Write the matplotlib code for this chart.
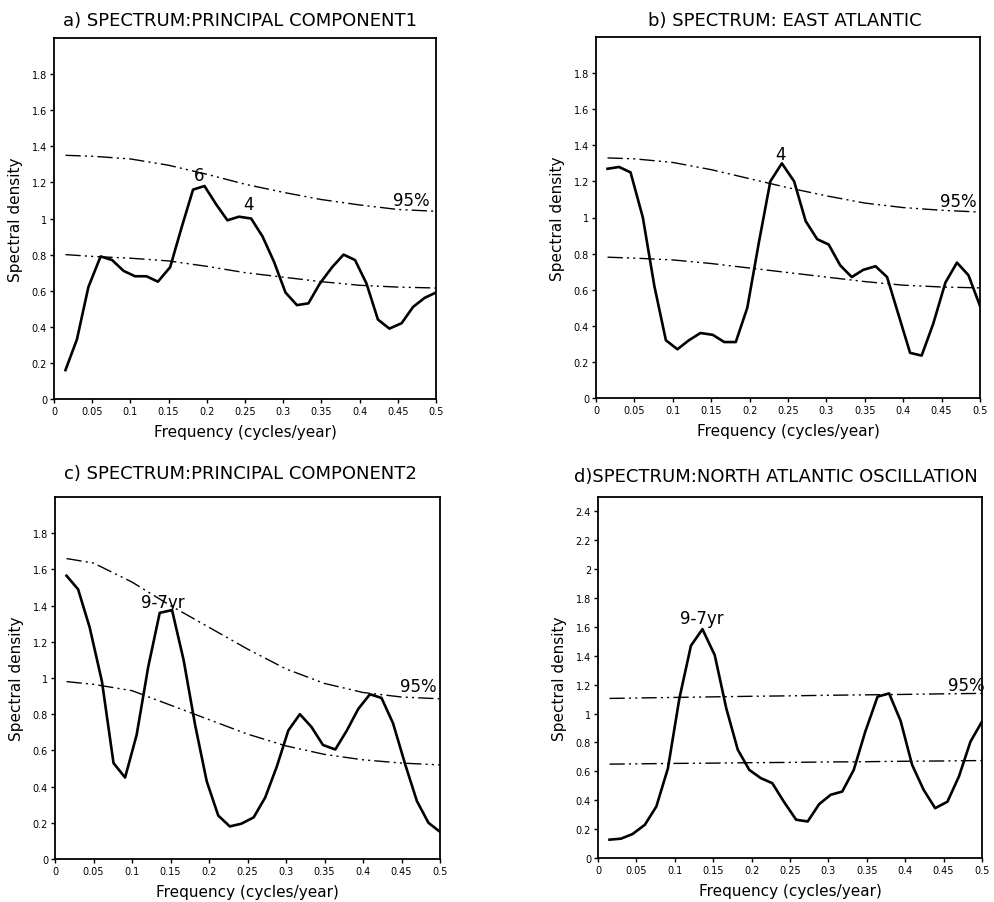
import matplotlib
matplotlib.use("Agg")
import matplotlib.pyplot as plt

# frequency grid of the spectra (cycles/year)
freq = [0.015, 0.030, 0.045, 0.061, 0.076, 0.091, 0.106, 0.121, 0.136, 0.152, 0.167,
        0.182, 0.197, 0.212, 0.227, 0.242, 0.258, 0.273, 0.288, 0.303, 0.318, 0.333,
        0.348, 0.364, 0.379, 0.394, 0.409, 0.424, 0.439, 0.455, 0.470, 0.485, 0.500]

spec_pc1 = [0.16, 0.33, 0.62, 0.79, 0.77, 0.71, 0.68, 0.68, 0.65, 0.73, 0.95,
            1.16, 1.18, 1.08, 0.99, 1.01, 1.00, 0.90, 0.76, 0.59, 0.52, 0.53,
            0.64, 0.73, 0.80, 0.77, 0.64, 0.44, 0.39, 0.42, 0.51, 0.56, 0.59]
spec_ea = [1.27, 1.28, 1.25, 1.00, 0.62, 0.32, 0.27, 0.32, 0.36, 0.35, 0.31,
           0.31, 0.50, 0.86, 1.20, 1.30, 1.20, 0.98, 0.88, 0.85, 0.735, 0.67,
           0.71, 0.73, 0.67, 0.46, 0.25, 0.235, 0.41, 0.64, 0.75, 0.68, 0.51]
spec_pc2 = [1.565, 1.49, 1.28, 0.98, 0.53, 0.45, 0.685, 1.06, 1.36, 1.375, 1.10,
            0.74, 0.43, 0.24, 0.18, 0.195, 0.23, 0.34, 0.51, 0.71, 0.80, 0.73,
            0.63, 0.605, 0.71, 0.83, 0.91, 0.89, 0.75, 0.52, 0.32, 0.20, 0.15]
spec_nao = [0.127, 0.134, 0.166, 0.23, 0.357, 0.62, 1.106, 1.47, 1.585, 1.405, 1.037,
            0.75, 0.61, 0.553, 0.518, 0.39, 0.265, 0.253, 0.373, 0.438, 0.46, 0.61,
            0.875, 1.117, 1.14, 0.95, 0.645, 0.472, 0.345, 0.39, 0.565, 0.806, 0.945]

# red-noise background and 95% level
bfreq = [0.015, 0.05, 0.1, 0.15, 0.2, 0.25, 0.3, 0.35, 0.4, 0.45, 0.5]
pc1_95 = [1.35, 1.345, 1.33, 1.295, 1.245, 1.19, 1.145, 1.105, 1.075, 1.05, 1.04]
pc1_red = [0.80, 0.79, 0.78, 0.765, 0.735, 0.70, 0.675, 0.65, 0.63, 0.62, 0.615]
ea_95 = [1.33, 1.325, 1.305, 1.265, 1.215, 1.165, 1.12, 1.08, 1.055, 1.04, 1.03]
ea_red = [0.78, 0.775, 0.765, 0.745, 0.72, 0.695, 0.67, 0.645, 0.625, 0.615, 0.61]
pc2_95 = [1.66, 1.635, 1.53, 1.40, 1.28, 1.16, 1.05, 0.97, 0.92, 0.895, 0.885]
pc2_red = [0.98, 0.965, 0.93, 0.85, 0.77, 0.69, 0.625, 0.578, 0.548, 0.53, 0.52]
nao_95 = [1.105, 1.108, 1.112, 1.116, 1.12, 1.123, 1.127, 1.13, 1.133, 1.137, 1.14]
nao_red = [0.65, 0.652, 0.655, 0.657, 0.66, 0.662, 0.665, 0.667, 0.67, 0.672, 0.675]

xticks = [0, 0.05, 0.1, 0.15, 0.2, 0.25, 0.3, 0.35, 0.4, 0.45, 0.5]
xticklabels = ['0', '0.05', '0.1', '0.15', '0.2', '0.25', '0.3', '0.35', '0.4', '0.45', '0.5']
yticks_18 = [0, 0.2, 0.4, 0.6, 0.8, 1, 1.2, 1.4, 1.6, 1.8]
yticks_24 = [0, 0.2, 0.4, 0.6, 0.8, 1, 1.2, 1.4, 1.6, 1.8, 2, 2.2, 2.4]

W, H = 994, 903
fig = plt.figure(figsize=(W / 100, H / 100), dpi=100)


def box(l, t, r, b):
    return [l / W, 1 - b / H, (r - l) / W, (b - t) / H]


dashdotdot = (0, (11, 3, 1.5, 3, 1.5, 3))

panels = [
    # rect, title, title pos, spectrum, 95%, red, ymax, yticks, notes
    (box(54, 39, 436, 400), 'a) SPECTRUM:PRINCIPAL COMPONENT1', (240, 21),
     spec_pc1, pc1_95, pc1_red, 2.0, yticks_18,
     [('6', 0.19, 1.24), ('4', 0.255, 1.08), ('95%', 0.468, 1.10)]),
    (box(596, 38, 980, 399), 'b) SPECTRUM: EAST ATLANTIC', (785, 21),
     spec_ea, ea_95, ea_red, 2.0, yticks_18,
     [('4', 0.24, 1.35), ('95%', 0.472, 1.09)]),
    (box(55, 498, 440, 860), 'c) SPECTRUM:PRINCIPAL COMPONENT2', (240, 474),
     spec_pc2, pc2_95, pc2_red, 2.0, yticks_18,
     [('9-7yr', 0.14, 1.42), ('95%', 0.472, 0.955)]),
    (box(598, 498, 982, 859), 'd)SPECTRUM:NORTH ATLANTIC OSCILLATION', (776, 477),
     spec_nao, nao_95, nao_red, 2.5, yticks_24,
     [('9-7yr', 0.135, 1.66), ('95%', 0.48, 1.2)]),
]

for rect, title, tpos, spec, up, red, ymax, yt, notes in panels:
    ax = fig.add_axes(rect)
    ax.plot(freq, spec, color='black', lw=1.9)
    ax.plot(bfreq, up, color='black', lw=1.0, linestyle=dashdotdot)
    ax.plot(bfreq, red, color='black', lw=1.0, linestyle=dashdotdot)
    for txt, x, y in notes:
        ax.text(x, y, txt, ha='center', va='center', fontsize=12)
    ax.set_xlim(0, 0.5)
    ax.set_ylim(0, ymax)
    ax.set_xticks(xticks)
    ax.set_xticklabels(xticklabels)
    ax.set_yticks(yt)
    ax.set_yticklabels(['%g' % v for v in yt])
    ax.tick_params(direction='out', length=3, width=1, labelsize=7, pad=2)
    for s in ax.spines.values():
        s.set_linewidth(1.3)
    ax.set_xlabel('Frequency (cycles/year)', fontsize=11, labelpad=6)
    ax.set_ylabel('Spectral density', fontsize=11, labelpad=6)
    fig.text(tpos[0] / W, 1 - tpos[1] / H, title, ha='center', va='center', fontsize=13)

plt.savefig('out.png', dpi=100)
plt.close()
